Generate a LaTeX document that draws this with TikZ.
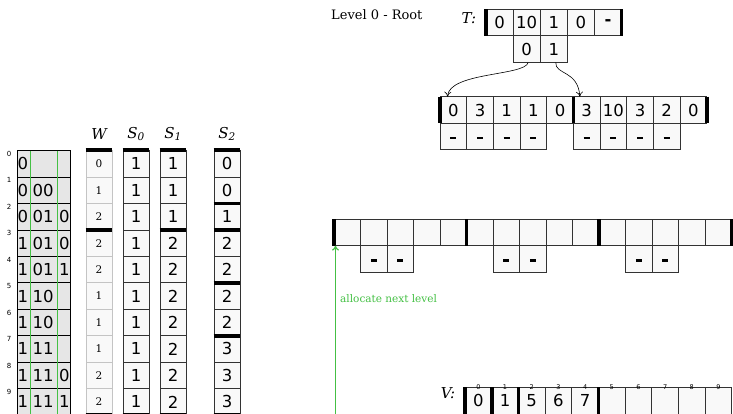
\documentclass[tikz,border=0pt]{standalone}
\usepackage{fontspec}
\setmainfont{DejaVu Serif}
\setsansfont{DejaVu Sans}
\usetikzlibrary{arrows.meta}
\definecolor{cellfill}{HTML}{F9F9F9}
\definecolor{leftfill}{HTML}{E6E6E6}
\definecolor{wline}{HTML}{C4C4C4}
\definecolor{grn}{HTML}{44C044}
\definecolor{cline}{HTML}{333333}
\newcommand{\celldash}{\raisebox{-2.6pt}[0pt][0pt]{\rule{6pt}{2.6pt}}}
\begin{document}
\begin{tikzpicture}[x=1pt,y=-1pt,
  cellbox/.style={draw=cline, fill=cellfill, line width=0.8pt, inner sep=0pt, outer sep=0pt, anchor=north west, minimum height=26.6pt, font=\sffamily\fontsize{16.5}{16.5}\selectfont},
  treecell/.style={cellbox, minimum width=27.1pt},
  lonecell/.style={cellbox, minimum width=26.67pt},
  ltwocell/.style={cellbox, minimum width=26.5pt},
  vcell/.style={cellbox, minimum width=26.68pt},
  wcell/.style={draw=wline, fill=cellfill, line width=0.8pt, inner sep=0pt, outer sep=0pt, anchor=north west, minimum width=26pt, minimum height=26.45pt, font=\fontsize{10.5}{10.5}\selectfont},
  scell/.style={cellbox, minimum width=26pt, minimum height=26.45pt},
  thickbar/.style={line width=3.6pt, black},
  idx/.style={font=\sffamily\fontsize{7}{7}\selectfont, inner sep=0pt},
  ltext/.style={font=\sffamily\fontsize{16.5}{16.5}\selectfont, inner sep=0pt, anchor=west},
  hdr/.style={font=\itshape\fontsize{15}{15}\selectfont, inner sep=0pt},
  link/.style={-{To[length=5pt,width=7pt]}, line width=0.6pt, black},
]
\useasboundingbox (0,0) rectangle (733,414);
\fill[white] (0,0) rectangle (733,414);
\def\rt{150.6}
\def\rh{26.45}
% left table
\foreach \i/\a/\b/\c in {0/0//,1/0/00/,2/0/01/0,3/1/01/0,4/1/01/1,5/1/10/,6/1/10/,7/1/11/,8/1/11/0,9/1/11/1}{
  \pgfmathsetmacro\yy{\rt+\rh*\i}
  \draw[fill=leftfill, line width=0.8pt] (17,\yy) rectangle ++(53.7,\rh);
  \node[ltext] (la\i) at (17.4,\yy+\rh/2) {\a};
  \node[ltext] (lb\i) at (32.4,\yy+\rh/2) {\b};
  \node[ltext] (lc\i) at (59.0,\yy+\rh/2) {\c};
  \node[idx, anchor=north] (li\i) at (9,\yy+0.5) {\i};
}
\draw[grn, line width=0.8pt] (30.3,\rt) -- (30.3,\rt+10*\rh);
\draw[grn, line width=0.8pt] (57.3,\rt) -- (57.3,\rt+10*\rh);
% W and S columns
\foreach \v [count=\k from 0] in {0,1,2,2,2,1,1,1,2,2}
  \node[wcell] (w\k) at (86,\rt+\rh*\k) {\v};
\foreach \v [count=\k from 0] in {1,1,1,1,1,1,1,1,1,1}
  \node[scell] (sa\k) at (123,\rt+\rh*\k) {\v};
\foreach \v [count=\k from 0] in {1,1,1,2,2,2,2,2,2,2}
  \node[scell] (sb\k) at (160,\rt+\rh*\k) {\v};
\foreach \v [count=\k from 0] in {0,0,1,2,2,2,2,3,3,3}
  \node[scell] (sc\k) at (214,\rt+\rh*\k) {\v};
\foreach \x in {86,123,160,214}{
  \draw[thickbar] (\x-0.4,\rt-0.6) -- (\x+26.4,\rt-0.6);
  \draw[thickbar] (\x-0.4,\rt+10*\rh) -- (\x+26.4,\rt+10*\rh);
}
\draw[thickbar] (85.6,\rt+3*\rh) -- (112.4,\rt+3*\rh);
\draw[thickbar] (159.6,\rt+3*\rh) -- (186.4,\rt+3*\rh);
\foreach \r in {2,3,5,7}
  \draw[thickbar] (213.6,\rt+\r*\rh) -- (240.4,\rt+\r*\rh);
\node[hdr] (hw) at (99,134) {W};
\node[hdr] (hs0) at (136,134) {S\textsubscript{0}};
\node[hdr] (hs1) at (173,134) {S\textsubscript{1}};
\node[hdr] (hs2) at (227,134) {S\textsubscript{2}};
% tree root
\node[font=\fontsize{13}{13}\selectfont, anchor=west, inner sep=0pt] (lvl) at (331,15) {Level 0 - Root};
\node[hdr] (tlab) at (469,18) {T:};
\foreach \v [count=\k from 0] in {0,10,1,0,\textbf{-}}
  \node[treecell] (t\k) at (486+27.1*\k,9.3) {\v};
\node[treecell] (tc0) at (513.1,35.9) {0};
\node[treecell] (tc1) at (540.2,35.9) {1};
\draw[thickbar] (486,9.3) -- (486,35.9);
\draw[thickbar] (621.5,9.3) -- (621.5,35.9);
% level 1
\foreach \v [count=\k from 0] in {0,3,1,1,0,3,10,3,2,0}
  \node[lonecell] (lo\k) at (440+26.67*\k,96.7) {\v};
\foreach \k in {0,1,2,3,5,6,7,8}
  \node[lonecell] (lod\k) at (440+26.67*\k,123.3) {\celldash};
\foreach \x in {440,573.35,706.7}
  \draw[thickbar] (\x,96.7) -- (\x,123.3);
\draw[link] ([xshift=1.5pt]tc0.south) .. controls (525,76) and (449,72) .. ([xshift=7.5pt]lo0.north west);
\draw[link] ([xshift=2pt]tc1.south) .. controls (555,75) and (578,70) .. ([xshift=6.5pt]lo5.north west);
% level 2
\foreach \k in {0,...,14}
  \node[ltwocell] (lt\k) at (334+26.5*\k,219) {};
\foreach \k in {1,2,6,7,11,12}
  \node[ltwocell] (ltd\k) at (334+26.5*\k,245.6) {\celldash};
\foreach \x in {334,466.5,599,731.5}
  \draw[thickbar] (\x,219) -- (\x,245.6);
\coordinate (gstart) at (335.5,414);
\draw[grn, -{To[length=5pt,width=7pt]}, line width=1.2pt] (gstart) -- ([xshift=1.5pt]lt0.south west);
\node[font=\fontsize{10.5}{10.5}\selectfont, text=grn, anchor=west, inner sep=0pt] (alloc) at (340,299) {allocate next level};
% V
\node[hdr] (vlab) at (448,393) {V:};
\foreach \v [count=\k from 0] in {0,1,5,6,7,{},{},{},{},{}}{
  \node[vcell] (v\k) at (465+26.68*\k,387.3) {\v};
  \node[idx, font=\sffamily\fontsize{6.5}{6.5}\selectfont, anchor=south] (vi\k) at ([yshift=-2pt]v\k.north) {\k};
}
\foreach \x in {465,491.7,518.4,598.4}
  \draw[thickbar] (\x,387.3) -- (\x,414);
\end{tikzpicture}
\end{document}
